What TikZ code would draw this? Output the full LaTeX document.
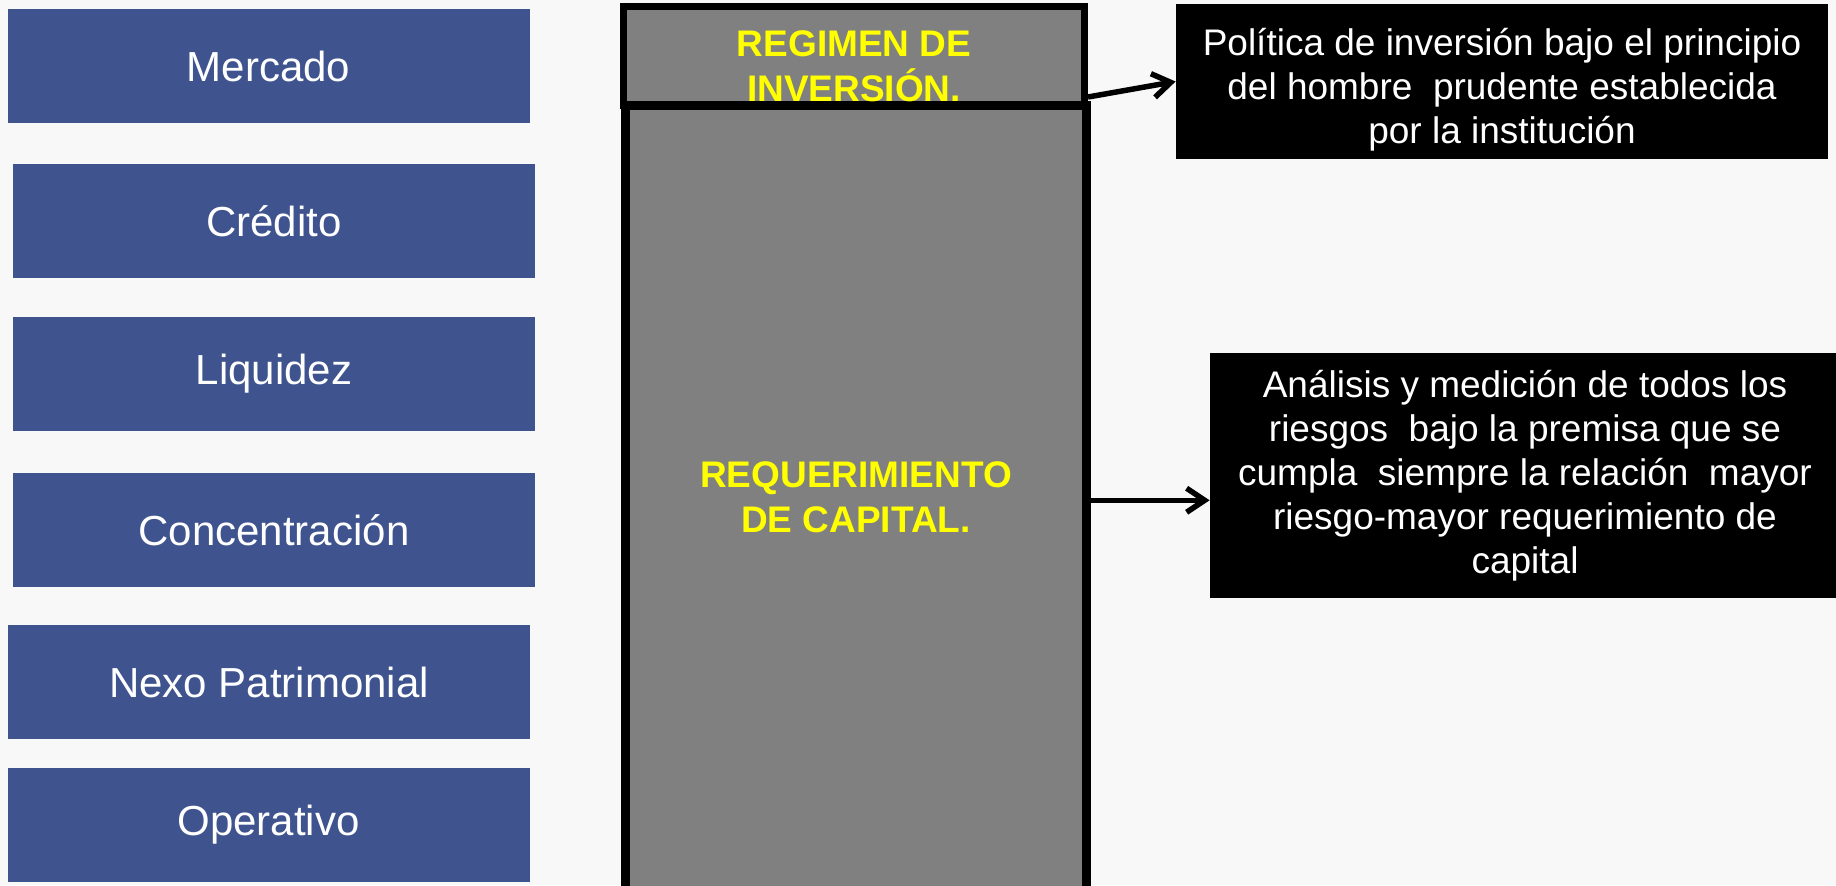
\documentclass[tikz,border=0pt]{standalone}
\usepackage{fontspec}
\setmainfont{Liberation Sans}
\usepackage{tikz}
\usetikzlibrary{arrows.meta}
\definecolor{fondo}{RGB}{248,248,248}
\definecolor{azulriesgo}{RGB}{63,84,143}
\definecolor{grisbloque}{RGB}{128,128,128}
\definecolor{amarillo}{RGB}{255,255,0}

\begin{document}
\begin{tikzpicture}[x=0.5pt, y=-0.5pt,
    riesgo/.style={fill=azulriesgo, text=white, inner sep=0pt, minimum width=261pt, minimum height=57pt, font=\fontsize{21}{25}\selectfont},
    bloque/.style={draw=black, fill=grisbloque, inner sep=0pt, minimum width=230.5pt},
    titulo/.style={text=amarillo, align=center, font=\bfseries\fontsize{18.5}{22.5}\selectfont},
    nota/.style={fill=black, text=white, align=center, inner sep=0pt, font=\fontsize{18.5}{22}\selectfont},
    flecha/.style={line width=2.75pt, -{Straight Barb[length=9pt,width=12pt]}}]
    \fill[fondo] (0,0) rectangle (1836,885);
    \useasboundingbox (0,0) rectangle (1836,885);
    % tipos de riesgo
    \node[riesgo] (mercado) at (268.5,66) {Mercado};
    \node[riesgo] (credito) at (274,221) {Crédito};
    \node[riesgo] (liquidez) at (274,374) {Liquidez};
    \node[riesgo] (concentracion) at (274,530) {Concentración};
    \node[riesgo] (nexo) at (269,682) {Nexo Patrimonial};
    \node[riesgo] (operativo) at (268.5,825) {Operativo};
    % bloques centrales
    \node[bloque, line width=3.5pt, minimum height=49.5pt] (regimen) at (854,56) {};
    \node[bloque, line width=4.5pt, minimum height=394.75pt] (requerimiento) at (856,500.25) {};
    \node[titulo] (regtxt) at (854,66) {REGIMEN DE\\INVERSIÓN.};
    \node[titulo] (reqtxt) at (856,497) {REQUERIMIENTO\\DE CAPITAL.};
    % notas
    \node[nota, minimum width=326pt, minimum height=77.5pt] (politica) at (1502,81.5)
        {\rule{0pt}{22pt}Política de inversión bajo el principio\\del hombre~ prudente establecida\\por la institución};
    \node[nota, minimum width=315pt, minimum height=122.5pt] (analisis) at (1525,475.5)
        {Análisis y medición de todos los\\riesgos~ bajo la premisa que se\\cumpla~ siempre la relación~ mayor\\riesgo-mayor requerimiento de\\capital};
    \draw[flecha] ([yshift=6pt]regimen.south east) -- (politica.west);
    \draw[flecha] (requerimiento.east) -- (requerimiento.east -| analisis.west);
\end{tikzpicture}
\end{document}
